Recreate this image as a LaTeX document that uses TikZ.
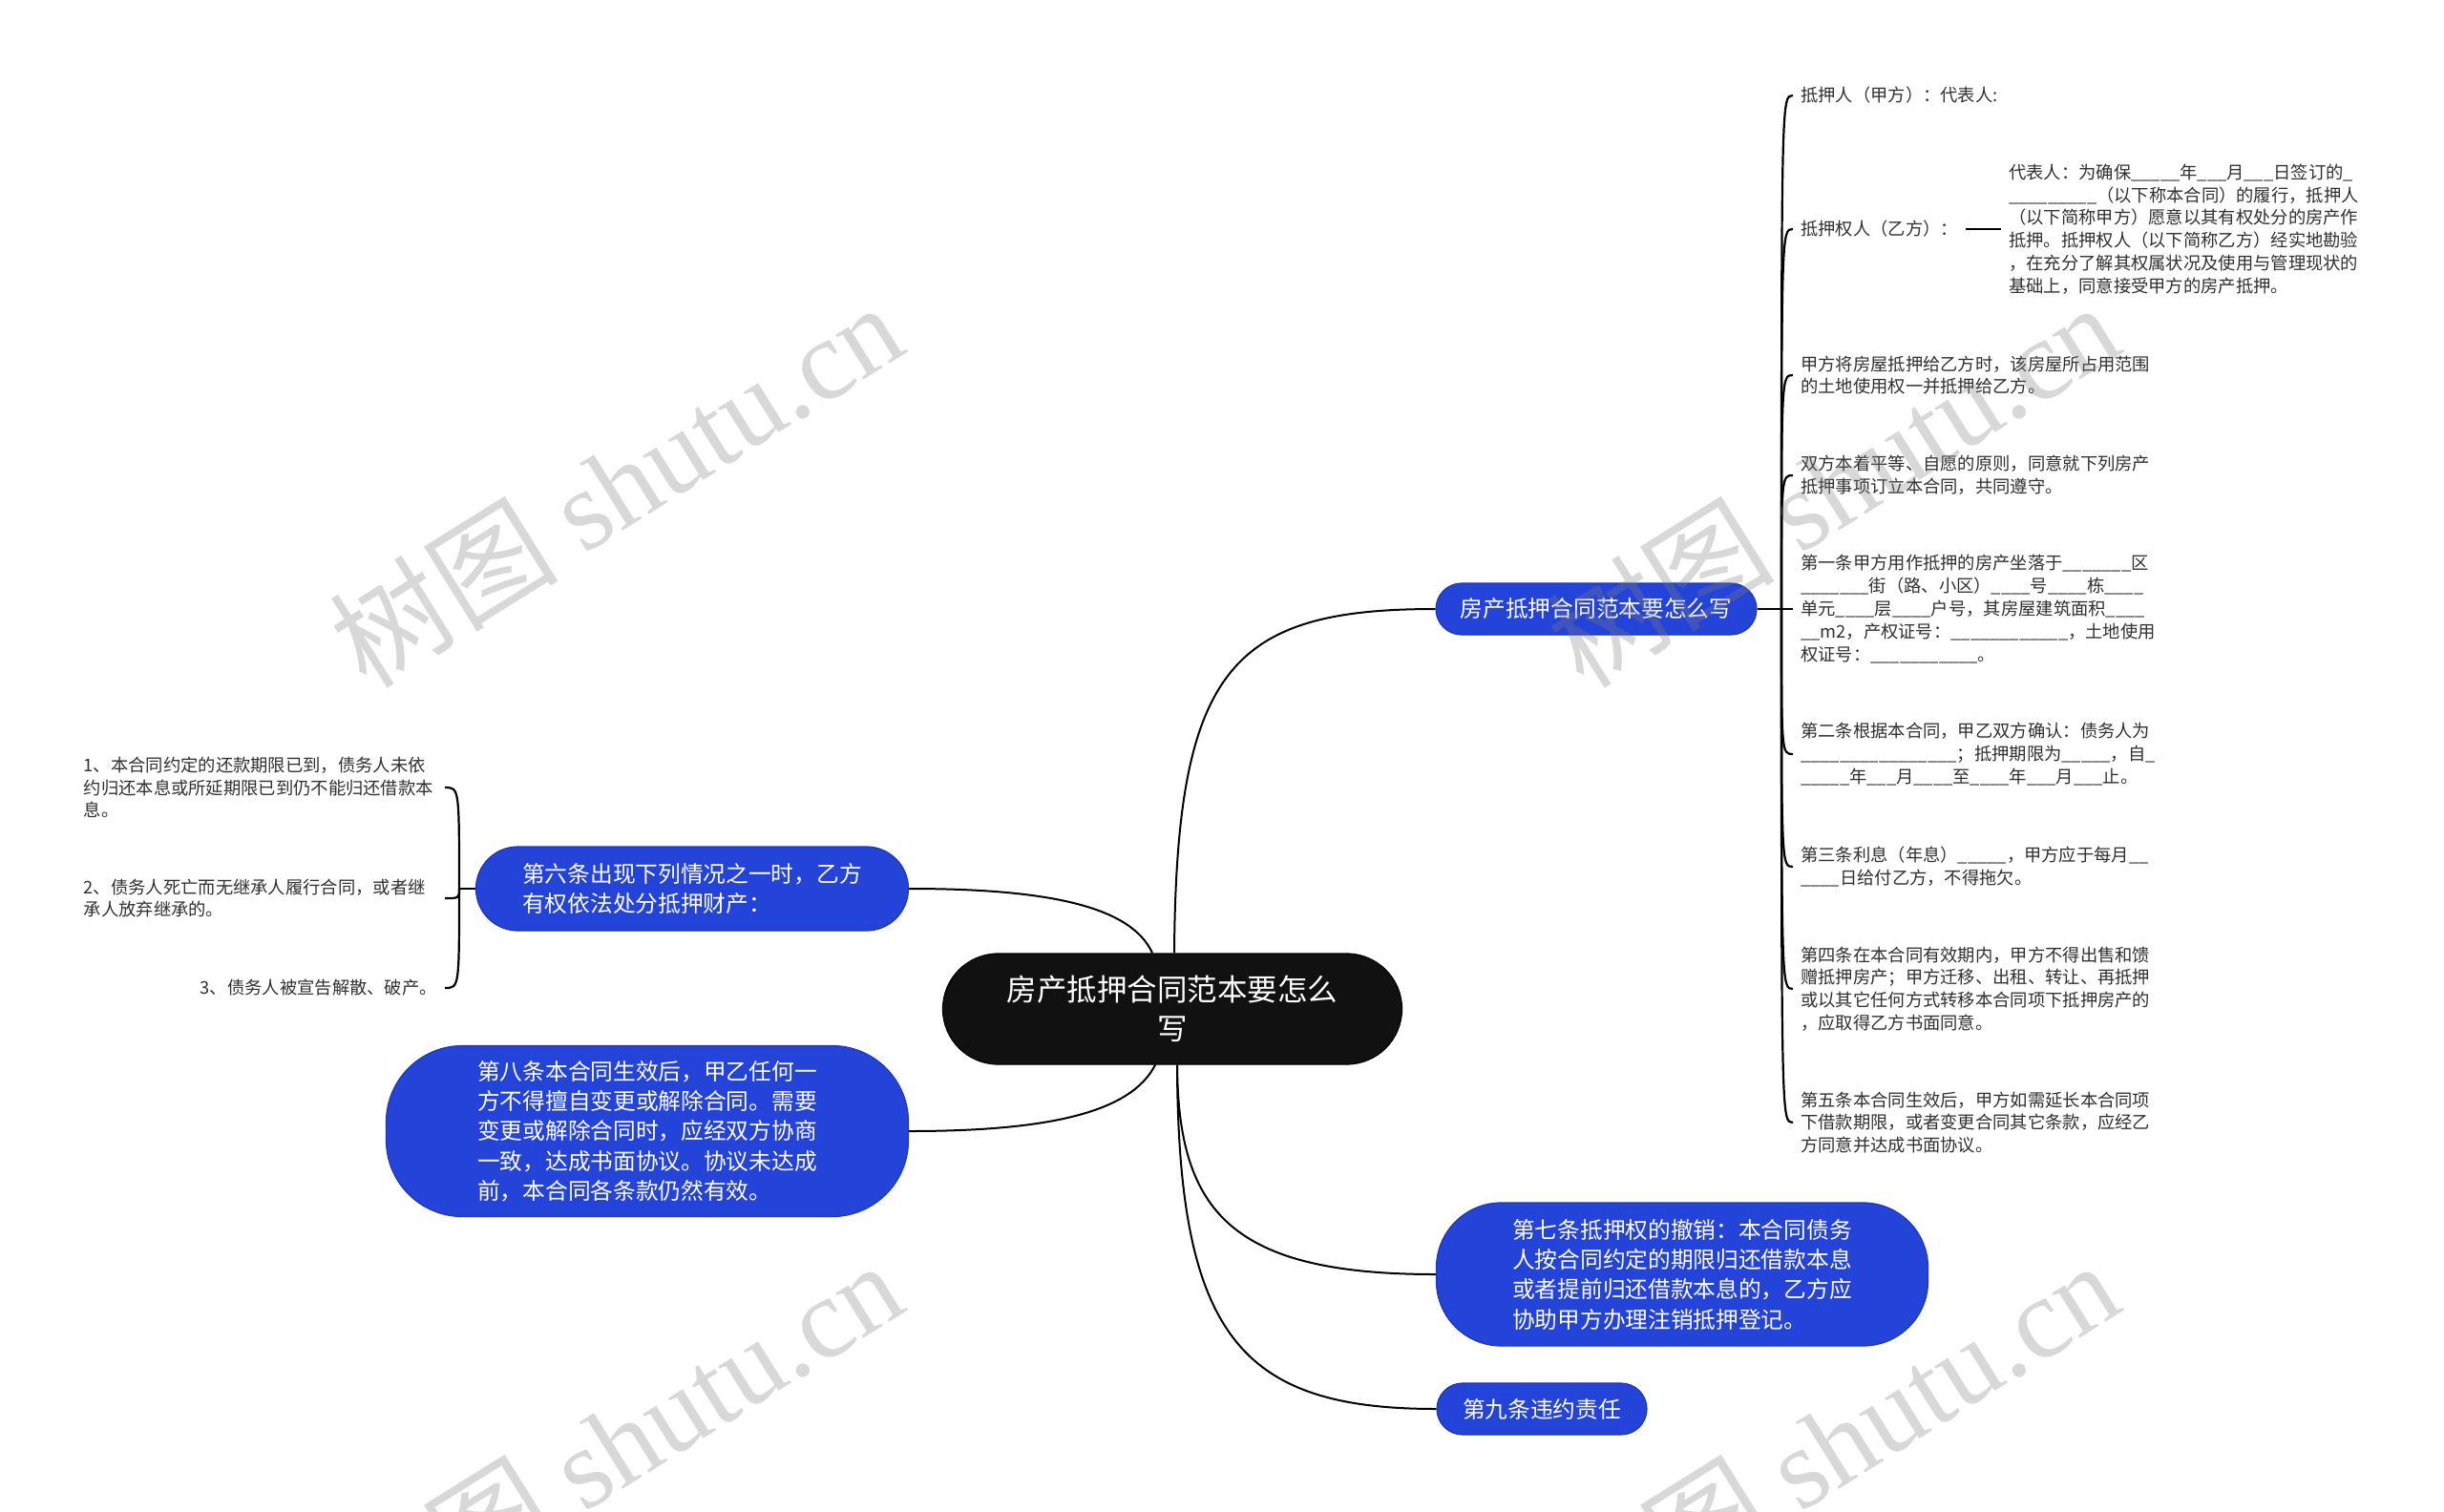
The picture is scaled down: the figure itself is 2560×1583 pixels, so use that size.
\documentclass[tikz,border=0pt]{standalone}
\usepackage{fontspec}
\setmainfont{Noto Sans CJK SC}
\newfontfamily\wmserif{Liberation Serif}
\usetikzlibrary{calc}
\definecolor{nodeblue}{HTML}{2443D8}
\definecolor{nodeedge}{HTML}{1D37B8}
\definecolor{leaftext}{HTML}{303030}
\definecolor{rootfill}{HTML}{111111}
\catcode`\_=12
\tikzset{
  branch/.style={draw=nodeedge, line width=1.2pt, fill=nodeblue, text=white, align=left,
    font=\fontsize{23.7}{31.3}\selectfont, inner sep=0pt},
  rootnode/.style={draw=black, line width=1.2pt, fill=rootfill, text=white, align=center,
    font=\fontsize{31.5}{41}\selectfont, inner sep=0pt, minimum width=481pt, minimum height=116pt,
    rounded corners=58pt},
  leaf/.style={text=leaftext, align=left, font=\fontsize{18.3}{23.8}\selectfont,
    inner xsep=8pt, inner ysep=0pt},
  conn/.style={draw=black, line width=2pt},
  brace/.style={draw=black, line width=2.2pt},
  wm/.style={text=gray, opacity=0.3, rotate=32, inner sep=0pt,
    font=\fontsize{120}{120}\selectfont}
}
\begin{document}
\begin{tikzpicture}[x=1pt, y=-1pt]
\useasboundingbox (0,0) rectangle (2560,1583);
\fill[white] (0,0) rectangle (2560,1583);

% central topic
\node[rootnode] (root) at (1228,1057) {房产抵押合同范本要怎么\\写};

% main branches
\node[branch, minimum width=336pt, minimum height=54pt, rounded corners=27pt] (b1) at (1672,638)
  {房产抵押合同范本要怎么写};
\node[branch, minimum width=515pt, minimum height=150pt, rounded corners=68pt] (b7) at (1762,1335)
  {第七条抵押权的撤销：本合同债务\\人按合同约定的期限归还借款本息\\或者提前归还借款本息的，乙方应\\协助甲方办理注销抵押登记。};
\node[branch, minimum width=220pt, minimum height=54pt, rounded corners=27pt] (b9) at (1615,1476)
  {第九条违约责任};
\node[branch, minimum width=453pt, minimum height=88pt, rounded corners=44pt] (b6) at (725,931)
  {第六条出现下列情况之一时，乙方\\有权依法处分抵押财产：};
\node[branch, minimum width=547pt, minimum height=179pt, rounded corners=80pt] (b8) at (678,1185)
  {第八条本合同生效后，甲乙任何一\\方不得擅自变更或解除合同。需要\\变更或解除合同时，应经双方协商\\一致，达成书面协议。协议未达成\\前，本合同各条款仍然有效。};

% connectors from the central topic
\draw[conn] ([xshift=2pt]root.north) .. controls (1232,700) and (1290,638) .. (b1.west);
\draw[conn] ([xshift=5pt]root.south) .. controls (1234,1270) and (1290,1335) .. (b7.west);
\draw[conn] ([xshift=5pt]root.south) .. controls (1234,1400) and (1300,1476) .. (b9.west);
\draw[conn] ([xshift=-21pt]root.north) .. controls (1185,950) and (1100,931) .. (b6.east);
\draw[conn] ([xshift=-18pt]root.south) .. controls (1185,1165) and (1100,1185) .. (b8.east);

% right leaves
\node[leaf, anchor=west] (r1) at (1878,100) {抵押人（甲方）：代表人:};
\node[leaf, anchor=west] (r2) at (1878,240) {抵押权人（乙方）：};
\node[leaf, anchor=west] (r2s) at (2096,240)
  {代表人：为确保_____年___月___日签订的_\\_________（以下称本合同）的履行，抵押人\\（以下简称甲方）愿意以其有权处分的房产作\\抵押。抵押权人（以下简称乙方）经实地勘验\\，在充分了解其权属状况及使用与管理现状的\\基础上，同意接受甲方的房产抵押。};
\node[leaf, anchor=west] (r3) at (1878,393)
  {甲方将房屋抵押给乙方时，该房屋所占用范围\\的土地使用权一并抵押给乙方。};
\node[leaf, anchor=west] (r4) at (1878,498)
  {双方本着平等、自愿的原则，同意就下列房产\\抵押事项订立本合同，共同遵守。};
\node[leaf, anchor=west] (r5) at (1878,638)
  {第一条甲方用作抵押的房产坐落于_______区\\_______街（路、小区）____号____栋____\\单元____层____户号，其房屋建筑面积____\\__m2，产权证号：____________，土地使用\\权证号：___________。};
\node[leaf, anchor=west] (r6) at (1878,790)
  {第二条根据本合同，甲乙双方确认：债务人为\\________________；抵押期限为_____，自_\\_____年___月____至____年___月___止。};
\node[leaf, anchor=west] (r7) at (1878,908)
  {第三条利息（年息）_____，甲方应于每月__\\____日给付乙方，不得拖欠。};
\node[leaf, anchor=west] (r8) at (1878,1036)
  {第四条在本合同有效期内，甲方不得出售和馈\\赠抵押房产；甲方迁移、出租、转让、再抵押\\或以其它任何方式转移本合同项下抵押房产的\\，应取得乙方书面同意。};
\node[leaf, anchor=west] (r9) at (1878,1176)
  {第五条本合同生效后，甲方如需延长本合同项\\下借款期限，或者变更合同其它条款，应经乙\\方同意并达成书面协议。};

\coordinate (jr) at (1866,638);
\draw[conn] (b1.east) -- (jr);
\foreach \L in {r1,r2,r3,r4,r5,r6,r7,r8,r9}
  \draw[brace] (jr) .. controls (jr |- \L.west) .. (\L.west);
\draw[brace] (r2.east) -- (r2s.west);

% left leaves
\node[leaf, anchor=east, text width=370pt] (l1) at (466,825)
  {1、本合同约定的还款期限已到，债务人未依\\约归还本息或所延期限已到仍不能归还借款本\\息。};
\node[leaf, anchor=east, text width=370pt] (l2) at (466,941)
  {2、债务人死亡而无继承人履行合同，或者继\\承人放弃继承的。};
\node[leaf, anchor=east] (l3) at (466,1035)
  {3、债务人被宣告解散、破产。};

\coordinate (jl) at (481,931);
\draw[conn] (b6.west) -- (jl);
\foreach \L in {l1,l2,l3}
  \draw[brace] (jl) .. controls (jl |- \L.east) .. (\L.east);

% watermarks
\begin{scope}
\clip (0,0) rectangle (2560,1583);
\node[wm] (wm1) at (645,507) {树图 {\wmserif shutu.cn}};
\node[wm] (wm2) at (1919,507) {树图 {\wmserif shutu.cn}};
\node[wm] (wm3) at (645,1511) {树图 {\wmserif shutu.cn}};
\node[wm] (wm4) at (1919,1511) {树图 {\wmserif shutu.cn}};
\end{scope}
\end{tikzpicture}
\end{document}
